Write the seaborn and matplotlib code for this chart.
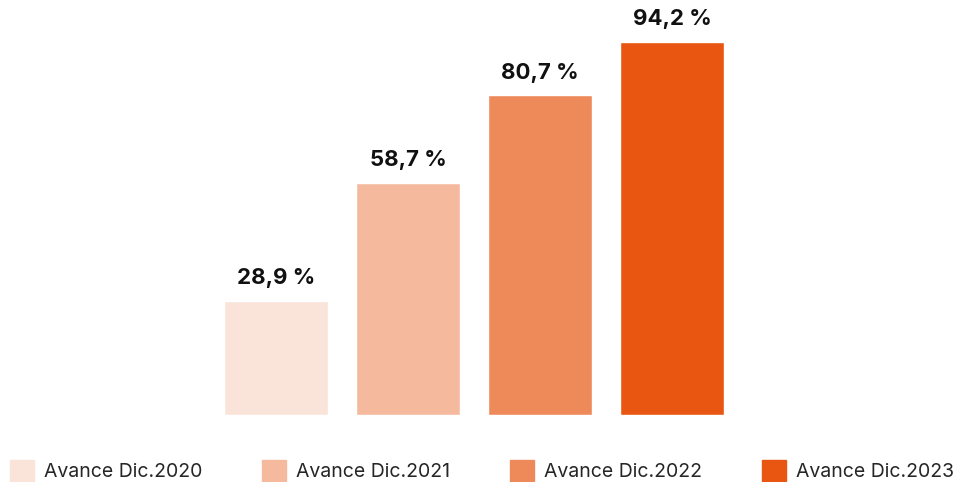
import matplotlib
matplotlib.use("Agg")
import matplotlib.pyplot as plt
import seaborn as sns
import pandas as pd

# data
categories = ["Avance Dic.2020", "Avance Dic.2021", "Avance Dic.2022", "Avance Dic.2023"]
values = [28.9, 58.7, 80.7, 94.2]
labels = ["28,9 %", "58,7 %", "80,7 %", "94,2 %"]
colors = ["#FAE4D9", "#F5BA9E", "#EE8A5A", "#E85611"]

df = pd.DataFrame({"cat": categories, "val": values})

sns.set_style("white")
plt.rcParams["font.family"] = ["Inter", "DejaVu Sans"]

fig = plt.figure(figsize=(9.54, 4.82), dpi=100)
ax = fig.add_axes([0, 67 / 482, 1, 415 / 482])

sns.barplot(data=df, x="cat", y="val", hue="cat", palette=colors,
            width=0.788, dodge=False, legend=False, ax=ax, saturation=1)

ax.set_xlim(-276 / 132, (954 - 276) / 132)
ax.set_ylim(0, 104.8)

for i, (v, lab) in enumerate(zip(values, labels)):
    ax.text(i, v + 3.2, lab, ha="center", va="bottom",
            fontsize=16, fontweight="bold", color="#111111")

ax.set_xlabel("")
ax.set_ylabel("")
ax.set_xticks([])
ax.set_yticks([])
sns.despine(ax=ax, left=True, bottom=True)

handles = [plt.Rectangle((0, 0), 1, 1, color=c) for c in colors]
fig.legend(handles, categories, loc="center", ncol=4, mode="expand",
           bbox_to_anchor=(0.01, 0.004, 0.99, 0.04), frameon=False,
           fontsize=14, handlelength=1.25, handleheight=1.25,
           handletextpad=0.5, borderaxespad=0, borderpad=0)

fig.savefig("out.png", dpi=100)
